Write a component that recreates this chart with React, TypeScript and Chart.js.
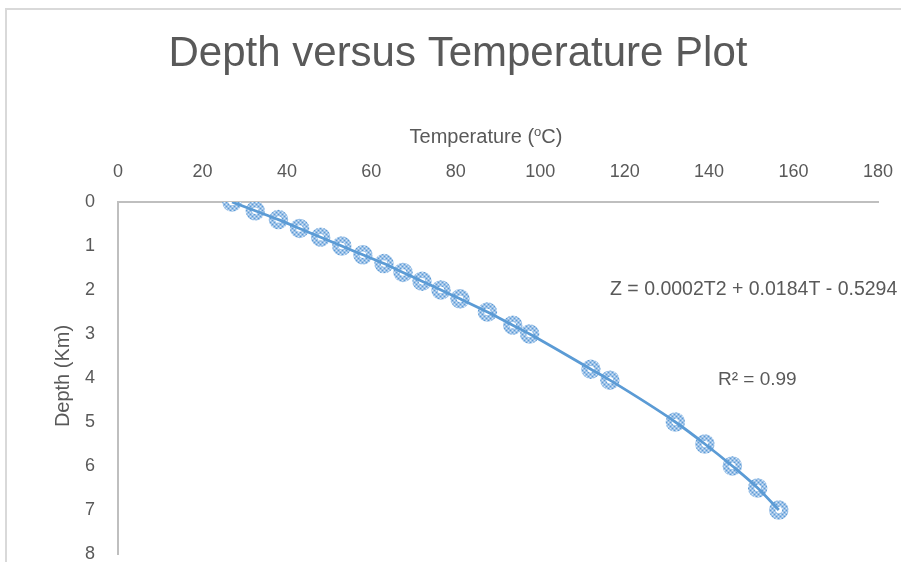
import React, { useEffect, useRef } from "react";
import { Chart, registerables } from "chart.js";

Chart.register(...registerables);

// ---- data ----
const temperatureC = [27, 32.5, 38, 43, 48, 53, 58, 63, 67.5, 72, 76.5, 81, 87.5, 93.5, 97.5, 112, 116.5, 132, 139, 145.5, 151.5, 156.5];
const depthKm = [0, 0.2, 0.4, 0.6, 0.8, 1.0, 1.2, 1.4, 1.6, 1.8, 2.0, 2.2, 2.5, 2.8, 3.0, 3.8, 4.05, 5.0, 5.5, 6.0, 6.5, 7.0];
const xTickValues = [0, 20, 40, 60, 80, 100, 120, 140, 160, 180];
const yTickValues = [0, 1, 2, 3, 4, 5, 6, 7, 8];

const chartTitle = "Depth versus Temperature Plot";
const xTitleMain = "Temperature (";
const xTitleSup = "o";
const xTitleEnd = "C)";
const yTitle = "Depth (Km)";
const equationText = "Z = 0.0002T2 + 0.0184T - 0.5294";
const r2Text = "R\u00B2 = 0.99";

const FONT = '"Liberation Sans", Arial, sans-serif';
const TEXT = "#595959";

function makePattern(ctx: CanvasRenderingContext2D) {
  const c = document.createElement("canvas");
  c.width = 4;
  c.height = 4;
  const g = c.getContext("2d")!;
  g.fillStyle = "#9ac0e7";
  g.fillRect(0, 0, 4, 4);
  g.fillStyle = "#5b9bd5";
  g.fillRect(0, 0, 1, 1);
  g.fillRect(2, 2, 1, 1);
  g.fillStyle = "#d8e7f6";
  g.fillRect(2, 0, 1, 1);
  g.fillRect(0, 2, 1, 1);
  return ctx.createPattern(c, "repeat")!;
}

const textPlugin = {
  id: "textPlugin",
  afterDraw(chart: any) {
    const ctx: CanvasRenderingContext2D = chart.ctx;
    const area = chart.chartArea;
    ctx.save();
    ctx.fillStyle = TEXT;
    ctx.textBaseline = "middle";

    // main title
    ctx.font = `42px ${FONT}`;
    ctx.textAlign = "center";
    ctx.fillText(chartTitle, 458, 54);

    // x axis title with superscript
    ctx.textAlign = "left";
    ctx.font = `20px ${FONT}`;
    const w1 = ctx.measureText(xTitleMain).width;
    const w3 = ctx.measureText(xTitleEnd).width;
    ctx.font = `13px ${FONT}`;
    const w2 = ctx.measureText(xTitleSup).width;
    const total = w1 + w2 + w3;
    const cx = 486;
    const cy = area.top - 65;
    const x0 = cx - total / 2;
    ctx.font = `20px ${FONT}`;
    ctx.fillText(xTitleMain, x0, cy);
    ctx.font = `13px ${FONT}`;
    ctx.fillText(xTitleSup, x0 + w1, cy - 5);
    ctx.font = `20px ${FONT}`;
    ctx.fillText(xTitleEnd, x0 + w1 + w2, cy);

    // y axis title
    ctx.save();
    ctx.translate(63, 376);
    ctx.rotate(-Math.PI / 2);
    ctx.textAlign = "center";
    ctx.font = `20px ${FONT}`;
    ctx.fillText(yTitle, 0, 0);
    ctx.restore();

    // trendline annotations
    ctx.textAlign = "left";
    ctx.font = `19.5px ${FONT}`;
    ctx.fillText(equationText, 610, 290);
    ctx.font = `19px ${FONT}`;
    ctx.fillText(r2Text, 718, 380);
    ctx.restore();
  },
};

export default function App() {
  const ref = useRef<HTMLCanvasElement | null>(null);

  useEffect(() => {
    const canvas = ref.current!;
    const ctx = canvas.getContext("2d")!;
    const pattern = makePattern(ctx);
    const points = temperatureC.map((t, i) => ({ x: t, y: depthKm[i] }));

    const chart = new Chart(ctx, {
      type: "scatter",
      data: {
        datasets: [
          {
            label: "fit",
            data: points,
            showLine: true,
            borderColor: "#5b9bd5",
            borderWidth: 2.75,
            pointRadius: 0,
            cubicInterpolationMode: "monotone",
            order: 0,
          } as any,
          {
            label: "Depth",
            data: points,
            showLine: false,
            pointRadius: 6.5,
            pointBorderWidth: 6.5,
            pointBorderColor: pattern,
            pointBackgroundColor: "#ffffff",
            order: 1,
          } as any,
        ],
      },
      options: {
        responsive: false,
        animation: false,
        events: [],
        layout: { padding: { left: 0, top: 0, right: 23, bottom: 3 } },
        plugins: {
          legend: { display: false },
          title: { display: false },
          tooltip: { enabled: false },
        },
        scales: {
          x: {
            type: "linear",
            position: "top",
            min: 0,
            max: 180,
            grid: { display: false, drawTicks: false, tickLength: 0 },
            border: { display: true, color: "#bfbfbf", width: 2 },
            ticks: { padding: 19, color: TEXT, font: { family: FONT, size: 18 } },
            afterBuildTicks: (s: any) => {
              s.ticks = xTickValues.map((v) => ({ value: v }));
            },
            afterFit: (s: any) => {
              s.height = 202;
              s.paddingLeft = 0;
              s.paddingRight = 0;
            },
          },
          y: {
            type: "linear",
            reverse: true,
            min: 0,
            max: 8,
            grid: { display: false, drawTicks: false, tickLength: 0 },
            border: { display: true, color: "#bfbfbf", width: 2 },
            ticks: { padding: 23, color: TEXT, font: { family: FONT, size: 18 } },
            afterBuildTicks: (s: any) => {
              s.ticks = yTickValues.map((v) => ({ value: v }));
            },
            afterFit: (s: any) => {
              s.width = 118;
              s.paddingTop = 0;
              s.paddingBottom = 0;
            },
          },
        },
      } as any,
      plugins: [textPlugin],
    });
    return () => chart.destroy();
  }, []);

  return (
    <div
      style={{
        position: "fixed",
        left: 0,
        top: 0,
        width: 901,
        height: 562,
        overflow: "hidden",
        background: "#ffffff",
      }}
    >
      <canvas ref={ref} width={901} height={567} style={{ position: "absolute", left: 0, top: 0 }} />
      <div
        style={{
          position: "absolute",
          left: 5,
          top: 8,
          width: 1200,
          height: 1200,
          borderLeft: "2px solid #d9d9d9",
          borderTop: "2px solid #d9d9d9",
          pointerEvents: "none",
        }}
      />
    </div>
  );
}
